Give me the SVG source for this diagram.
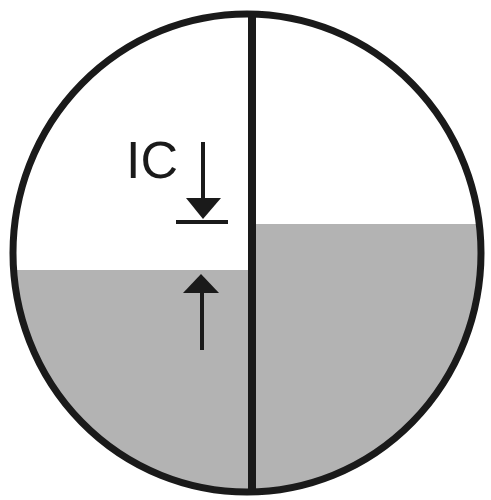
<svg xmlns="http://www.w3.org/2000/svg" width="491" height="500" viewBox="0 0 491 500">
<style>
.ln{stroke:#1a1a1a;fill:none}
.ar{fill:#1a1a1a}
</style>
<defs>
<clipPath id="c"><ellipse cx="247" cy="253" rx="234" ry="239"/></clipPath>
</defs>
<rect width="491" height="500" fill="#fff"/>
<g id="fill" clip-path="url(#c)" fill="#b3b3b3">
<rect x="0" y="270" width="252" height="240"/>
<rect x="252" y="224" width="250" height="290"/>
</g>
<g id="circle"><ellipse class="ln" cx="247" cy="253" rx="234" ry="239" stroke-width="7"/></g>
<g id="divider"><line class="ln" x1="252" y1="14" x2="252" y2="492" stroke-width="8"/></g>
<g id="label"><text x="126" y="178" font-family="Liberation Sans, Arial, sans-serif" font-size="52" fill="#1a1a1a">IC</text></g>
<g id="connectors">
<line class="ln" x1="203" y1="142" x2="203" y2="202" stroke-width="4"/>
<polygon class="ar" points="186,198 221,198 203,219"/>
<line class="ln" x1="176" y1="222" x2="228" y2="222" stroke-width="4"/>
<line class="ln" x1="202" y1="290" x2="202" y2="350" stroke-width="4"/>
<polygon class="ar" points="183,293 219,293 201,274"/>
</g>
</svg>
